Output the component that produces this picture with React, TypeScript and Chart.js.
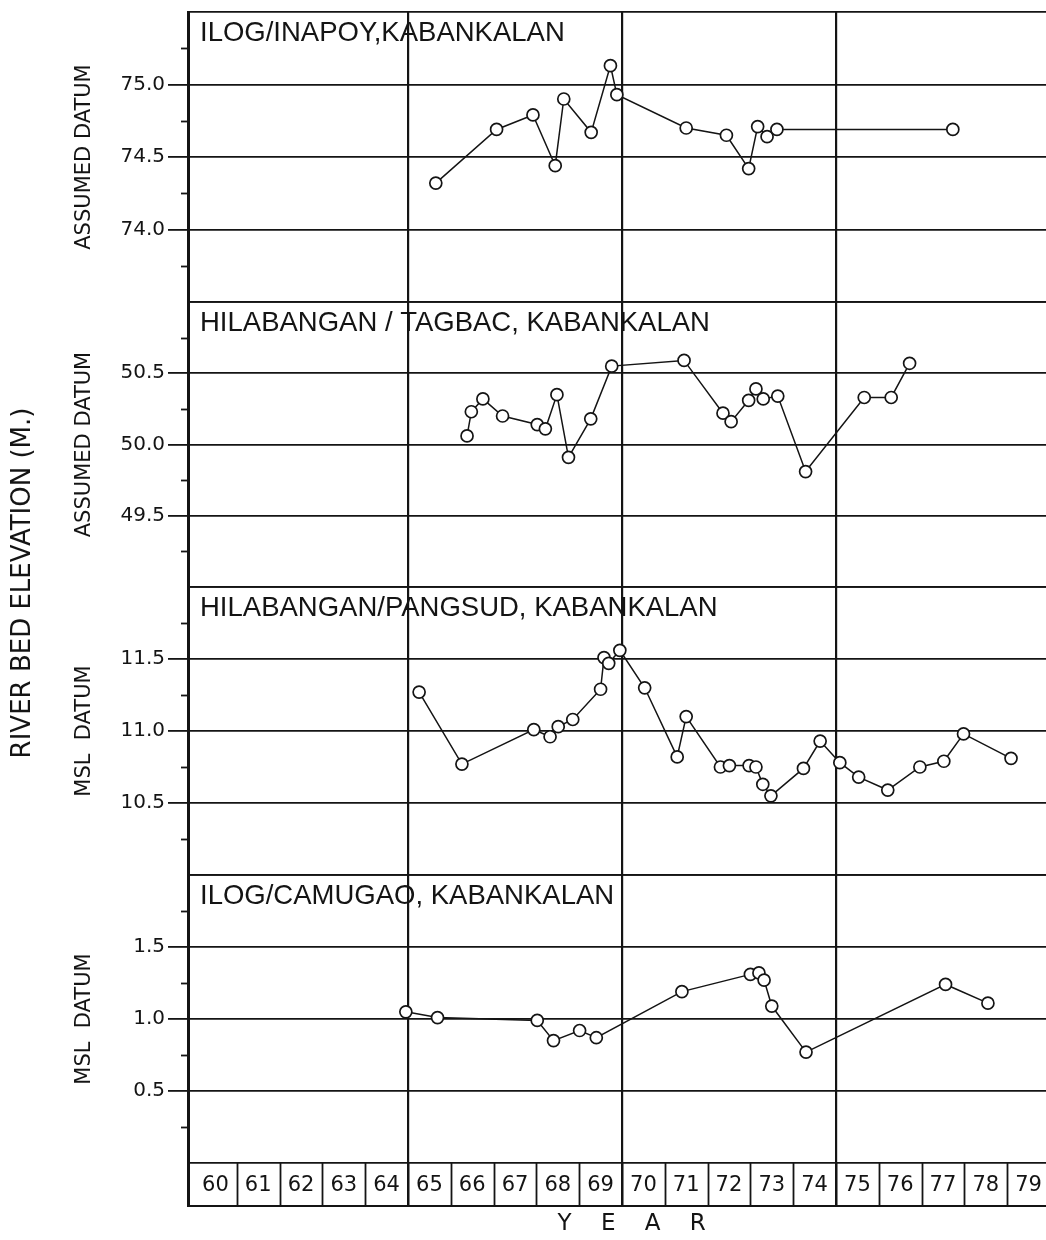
import React, { useEffect, useRef } from 'react';
import { Chart, registerables } from 'chart.js';

Chart.register(...registerables);

const INK = '#141414';

// ---- data (year, elevation) ----
const INAPOY_X = [65.65, 67.07, 67.92, 68.44, 68.64, 69.28, 69.73, 69.88, 71.5, 72.44, 72.96, 73.17, 73.39, 73.62, 77.73];
const INAPOY_Y = [74.32, 74.69, 74.79, 74.44, 74.9, 74.67, 75.13, 74.93, 74.7, 74.65, 74.42, 74.71, 74.64, 74.69, 74.69];

const TAGBAC_X = [66.38, 66.48, 66.75, 67.21, 68.02, 68.21, 68.48, 68.75, 69.27, 69.76, 71.45, 72.36, 72.55, 72.96, 73.13, 73.3, 73.64, 74.29, 75.66, 76.29, 76.72];
const TAGBAC_Y = [50.06, 50.23, 50.32, 50.2, 50.14, 50.11, 50.35, 49.91, 50.18, 50.55, 50.59, 50.22, 50.16, 50.31, 50.39, 50.32, 50.34, 49.81, 50.33, 50.33, 50.57];

const PANGSUD_X = [65.26, 66.26, 67.94, 68.32, 68.51, 68.85, 69.5, 69.58, 69.69, 69.95, 70.53, 71.29, 71.5, 72.3, 72.51, 72.97, 73.13, 73.29, 73.48, 74.24, 74.63, 75.09, 75.53, 76.21, 76.96, 77.52, 77.98, 79.09];
const PANGSUD_Y = [11.27, 10.77, 11.01, 10.96, 11.03, 11.08, 11.29, 11.51, 11.47, 11.56, 11.3, 10.82, 11.1, 10.75, 10.76, 10.76, 10.75, 10.63, 10.55, 10.74, 10.93, 10.78, 10.68, 10.59, 10.75, 10.79, 10.98, 10.81];

const CAMUGAO_X = [64.95, 65.69, 68.02, 68.4, 69.01, 69.4, 71.4, 73.0, 73.2, 73.32, 73.5, 74.3, 77.56, 78.55];
const CAMUGAO_Y = [1.05, 1.01, 0.99, 0.85, 0.92, 0.87, 1.19, 1.31, 1.32, 1.27, 1.09, 0.77, 1.24, 1.11];

// ---- axes / ticks ----
const YEARS = [60, 61, 62, 63, 64, 65, 66, 67, 68, 69, 70, 71, 72, 73, 74, 75, 76, 77, 78, 79];
const YEAR_LABELS = ['60', '61', '62', '63', '64', '65', '66', '67', '68', '69', '70', '71', '72', '73', '74', '75', '76', '77', '78', '79'];
const X_MAJOR = [65, 70, 75];

const P1_RANGE = [73.5, 75.5];
const P1_TICKS = [74.0, 74.5, 75.0];
const P1_LABELS = ['74.0', '74.5', '75.0'];
const P1_MINOR = [73.75, 74.25, 74.75, 75.25];

const P2_RANGE = [49.0, 51.0];
const P2_TICKS = [49.5, 50.0, 50.5];
const P2_LABELS = ['49.5', '50.0', '50.5'];
const P2_MINOR = [49.25, 49.75, 50.25, 50.75];

const P3_RANGE = [10.0, 12.0];
const P3_TICKS = [10.5, 11.0, 11.5];
const P3_LABELS = ['10.5', '11.0', '11.5'];
const P3_MINOR = [10.25, 10.75, 11.25, 11.75];

const P4_RANGE = [0.0, 2.0];
const P4_TICKS = [0.5, 1.0, 1.5];
const P4_LABELS = ['0.5', '1.0', '1.5'];
const P4_MINOR = [0.25, 0.75, 1.25, 1.75];

const PANELS = [
  { id: 'p1', title: 'ILOG/INAPOY,KABANKALAN', axisTitle: 'ASSUMED DATUM', range: P1_RANGE, ticks: P1_TICKS, labels: P1_LABELS, minor: P1_MINOR, weight: 290, order: 5, xs: INAPOY_X, ys: INAPOY_Y },
  { id: 'p2', title: 'HILABANGAN / TAGBAC, KABANKALAN', axisTitle: 'ASSUMED DATUM', range: P2_RANGE, ticks: P2_TICKS, labels: P2_LABELS, minor: P2_MINOR, weight: 285, order: 4, xs: TAGBAC_X, ys: TAGBAC_Y },
  { id: 'p3', title: 'HILABANGAN/PANGSUD, KABANKALAN', axisTitle: 'MSL  DATUM', range: P3_RANGE, ticks: P3_TICKS, labels: P3_LABELS, minor: P3_MINOR, weight: 288, order: 3, xs: PANGSUD_X, ys: PANGSUD_Y },
  { id: 'p4', title: 'ILOG/CAMUGAO, KABANKALAN', axisTitle: 'MSL  DATUM', range: P4_RANGE, ticks: P4_TICKS, labels: P4_LABELS, minor: P4_MINOR, weight: 288, order: 2, xs: CAMUGAO_X, ys: CAMUGAO_Y },
];

const SANS = '"DejaVu Sans", "Liberation Sans", sans-serif';
const TITLE_FONT = '27.5px "Liberation Sans", Arial, sans-serif';

const decorPlugin = {
  id: 'decor',
  afterDraw(chart: any) {
    const { ctx, chartArea, scales } = chart;
    const xs = scales.x;
    ctx.save();
    ctx.strokeStyle = INK;
    ctx.fillStyle = INK;
    PANELS.forEach((p) => {
      const s = scales[p.id];
      ctx.lineWidth = 1.8;
      p.minor.forEach((v) => {
        const py = Math.round(s.getPixelForValue(v)) + 0.5;
        ctx.beginPath();
        ctx.moveTo(chartArea.left - 7, py);
        ctx.lineTo(chartArea.left, py);
        ctx.stroke();
      });
      ctx.font = TITLE_FONT;
      ctx.textAlign = 'left';
      ctx.textBaseline = 'middle';
      ctx.fillText(p.title, chartArea.left + 12, s.top + 21);
    });
    const yr = scales.yr;
    ctx.lineWidth = 1.8;
    ctx.font = '21px ' + SANS;
    ctx.textAlign = 'center';
    ctx.textBaseline = 'middle';
    YEARS.forEach((yv, i) => {
      if (i > 0) {
        const px = Math.round(xs.getPixelForValue(yv)) + 0.5;
        ctx.beginPath();
        ctx.moveTo(px, yr.top);
        ctx.lineTo(px, yr.bottom);
        ctx.stroke();
      }
      ctx.fillText(YEAR_LABELS[i], xs.getPixelForValue(yv + 0.5), (yr.top + yr.bottom) / 2 + 1);
    });
    ctx.restore();
  },
};

export default function App() {
  const ref = useRef<HTMLCanvasElement | null>(null);

  useEffect(() => {
    document.body.style.margin = '0';
    const canvas = ref.current;
    if (!canvas) return;

    const noPad = (s: any, w: number) => {
      s.width = w;
      s.paddingTop = 0;
      s.paddingBottom = 0;
    };

    const hidden = {
      ticks: { display: false },
      grid: { display: false },
      border: { display: false },
    };

    const scales: any = {
      x: {
        type: 'linear',
        position: 'bottom',
        min: 59.86,
        max: 79.907,
        afterBuildTicks: (s: any) => {
          s.ticks = X_MAJOR.map((v) => ({ value: v }));
        },
        afterFit: (s: any) => {
          s.height = 34;
          s.paddingLeft = 0;
          s.paddingRight = 0;
        },
        ticks: { display: false },
        grid: { color: INK, lineWidth: 2.2, drawTicks: false },
        border: { display: true, color: INK, width: 2 },
        title: {
          display: true,
          text: '    Y    E    A    R',
          color: INK,
          font: { family: SANS, size: 23 },
          padding: { top: 4, bottom: 2 },
        },
      },
      outer: {
        type: 'linear',
        position: 'left',
        stack: 'outer',
        stackWeight: 1142,
        weight: 10,
        min: 0,
        max: 1,
        afterFit: (s: any) => noPad(s, 68),
        ...hidden,
        title: {
          display: true,
          text: 'RIVER BED ELEVATION (M.)',
          color: INK,
          font: { family: SANS, size: 26 },
          padding: { top: 8, bottom: 0 },
        },
      },
      outer2: {
        type: 'linear',
        position: 'left',
        stack: 'outer',
        stackWeight: 52,
        weight: 9,
        min: 0,
        max: 1,
        afterFit: (s: any) => noPad(s, 68),
        ...hidden,
      },
      yr: {
        type: 'linear',
        position: 'left',
        stack: 'panels',
        stackWeight: 43,
        weight: 1,
        min: 0,
        max: 1,
        afterFit: (s: any) => noPad(s, 120),
        ticks: { display: false },
        grid: { display: false },
        border: { display: true, color: INK, width: 3 },
      },
    };

    PANELS.forEach((p) => {
      const n = p.ticks.length + 2;
      scales[p.id] = {
        type: 'linear',
        position: 'left',
        stack: 'panels',
        stackWeight: p.weight,
        weight: p.order,
        min: p.range[0],
        max: p.range[1],
        afterBuildTicks: (s: any) => {
          s.ticks = [p.range[0], ...p.ticks, p.range[1]].map((v) => ({ value: v }));
        },
        afterFit: (s: any) => noPad(s, 120),
        ticks: {
          autoSkip: false,
          padding: 3,
          color: INK,
          font: { family: SANS, size: 20 },
          callback: (_v: any, i: number) => (i === 0 || i === n - 1 ? '' : p.labels[i - 1]),
        },
        grid: {
          color: INK,
          lineWidth: 1.8,
          drawTicks: true,
          tickLength: 20,
          tickWidth: 1.8,
          tickColor: (c: any) => (c.index === 0 || c.index === n - 1 ? 'rgba(0,0,0,0)' : INK),
        },
        border: { display: true, color: INK, width: 3 },
        title: {
          display: true,
          text: p.axisTitle,
          color: INK,
          font: { family: SANS, size: 21 },
          padding: { top: 4, bottom: 0 },
        },
      };
    });

    const datasets = PANELS.map((p) => ({
      label: p.title,
      data: p.xs.map((x, i) => ({ x, y: p.ys[i] })),
      yAxisID: p.id,
      xAxisID: 'x',
      borderColor: INK,
      borderWidth: 1.5,
      backgroundColor: '#ffffff',
      pointRadius: 6,
      pointBorderWidth: 1.7,
      pointBackgroundColor: '#ffffff',
      pointBorderColor: INK,
      tension: 0,
      fill: false,
    }));

    const chart = new Chart(canvas, {
      type: 'line',
      data: { datasets },
      options: {
        responsive: false,
        animation: false,
        devicePixelRatio: 1,
        layout: { autoPadding: false, padding: { top: 12, left: 0, right: 0, bottom: 0 } },
        plugins: { legend: { display: false }, tooltip: { enabled: false } },
        scales,
      } as any,
      plugins: [decorPlugin],
    });

    return () => chart.destroy();
  }, []);

  return (
    <div style={{ width: 1046, height: 1240, background: '#fff' }}>
      <canvas ref={ref} width={1046} height={1240} style={{ display: 'block', width: 1046, height: 1240 }} />
    </div>
  );
}
